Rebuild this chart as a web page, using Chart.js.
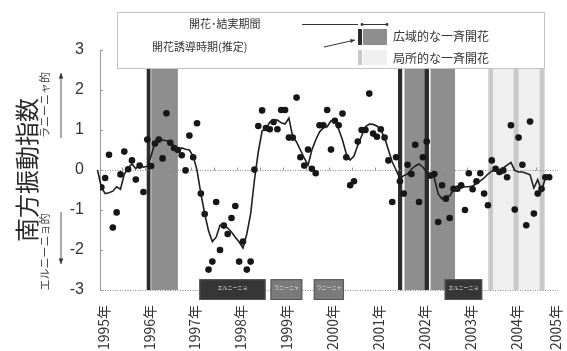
<!DOCTYPE html>
<html>
<head>
<meta charset="utf-8">
<script src="https://cdn.jsdelivr.net/npm/chart.js@4.4.1/dist/chart.umd.min.js"></script>
<style>
  html, body { margin: 0; padding: 0; background: #fff; }
</style>
</head>
<body>
<canvas id="soiChart" width="567" height="351"></canvas>
<script>
// month index: 0 = Jan 1995
const yearLabels = ['1995年', '1996年', '1997年', '1998年', '1999年', '2000年',
                    '2001年', '2002年', '2003年', '2004年', '2005年'];
const yTicks = [3, 2, 1, 0, -1, -2, -3];

// monthly SOI (dots), Jan 1995 - Oct 2004
const soiMonthly = [
  -0.43, -0.2, 0.38, -1.44, -1.06, -0.11, 0.46, 0.02, 0.24, -0.24, 0.11, -0.55,
  0.76, 0.1, 0.66, 0.76, 0.29, 1.42, 0.68, 0.55, 0.5, 0.37, -0.01, 0.86,
  0.32, 1.17, -0.59, -1.1, -2.49, -2.29, -0.8, -2.0, -1.39, -1.6, -1.2, -0.9,
  -2.29, -1.79, -2.49, -2.29, 0.01, 1.1, 1.49, 1.05, 1.02, 1.2, 1.02, 1.5,
  1.5, 0.81, 0.81, 1.81, 0.32, 0.11, 0.51, 0.03, -0.08, 1.12, 1.12, 1.5,
  0.51, 1.23, 1.12, 1.41, 0.32, -0.38, -0.28, 0.71, 1.0, 1.0, 1.91, 0.91,
  0.83, 1.02, 0.81, 0.24, -0.8, 0.32, -0.28, -0.59, 0.13, -0.1, 0.63, -0.8,
  0.32, 0.71, -0.14, -0.1, -1.3, -0.38, -0.72, -1.2, -0.47, -0.47, -0.38, -1.0,
  -0.08, -0.48, -0.28, -0.08, -0.59, -0.88, 0.24, 0.03, -0.05, -0.01, -0.18, 1.12,
  -0.99, 0.81, 0.13, -1.38, 1.21, -1.09, -0.59, -0.47, -0.18, -0.18
];

// running mean (line), starts Nov 1994
const smoothStart = -2;
const soiSmooth = [
  -1.05, null,
  -0.43, -0.59, -0.57, -0.53, -0.42, -0.48, -0.1, 0.05, 0.15, 0.03, 0.14, 0.07,
  0.09, 0.35, 0.69, 0.8, 0.75, 0.73, 0.73, 0.6, 0.48, 0.55, 0.52, 0.5,
  0.34, -0.01, -0.59, -1.09, -1.52, -1.79, -1.68, -1.38, -1.38, -1.45, -1.55, -1.68,
  -1.8, -1.95, -1.6, -1.1, -0.25, 0.45, 0.98, 1.02, 1.2, 1.25, 1.25, 1.18,
  1.15, 1.3, 0.83, 0.7, 0.5, 0.3, 0.12, 0.5, 0.75, 0.95, 1.06, 1.08,
  1.23, 1.2, 1.02, 0.75, 0.4, 0.25, 0.35, 0.62, 0.85, 1.08, 1.15, 1.14,
  1.1, 1.0, 0.81, 0.5, 0.2, 0.0, -0.22, -0.14, -0.1, 0.02, 0.1, 0.15,
  0.07, -0.05, -0.12, -0.2, -0.6, -0.72, -0.65, -0.65, -0.5, -0.47, -0.45, -0.42,
  -0.42, -0.4, -0.34, -0.27, -0.2, -0.1, -0.03, -0.01, 0.0, 0.05, 0.12, 0.19,
  -0.01, -0.05, -0.05, -0.08, -0.12, -0.45, -0.24, -0.52, -0.2
];

// flowering periods (month index ranges)
const wideInduction = [[11.85, 12.85], [77.5, 78.6], [84.4, 85.6]];
const wideFlowering = [[13.05, 20.0], [79.2, 84.4], [86.0, 92.4]];
const localInduction = [[101.1, 102.3], [107.7, 109.0], [114.5, 115.8]];
const localFlowering = [[102.3, 107.7], [109.0, 114.5]];

// ENSO event boxes under the plot
const ensoSpans = [[25.6, 42.9], [44.2, 52.5], [55.5, 63.4], [89.7, 99.5]];
const ensoNames = ['エルニーニョ', 'ラニーニャ', 'ラニーニャ', 'エルニーニョ'];

const FONT = "'Noto Sans CJK JP', 'Noto Sans', sans-serif";
const X_MIN = -0.35, X_MAX = 119.3;

function arrow(ctx, x0, y0, x1, y1, head) {
  ctx.beginPath();
  ctx.moveTo(x0, y0);
  ctx.lineTo(x1, y1);
  ctx.stroke();
  const a = Math.atan2(y1 - y0, x1 - x0);
  ctx.beginPath();
  ctx.moveTo(x1, y1);
  ctx.lineTo(x1 - head * Math.cos(a - 0.4), y1 - head * Math.sin(a - 0.4));
  ctx.lineTo(x1 - head * Math.cos(a + 0.4), y1 - head * Math.sin(a + 0.4));
  ctx.closePath();
  ctx.fill();
}

function vText(ctx, text, x, y, size) {
  ctx.save();
  ctx.translate(x, y);
  ctx.rotate(-Math.PI / 2);
  ctx.font = size + 'px ' + FONT;
  ctx.textAlign = 'center';
  ctx.textBaseline = 'middle';
  ctx.fillText(text, 0, 0);
  ctx.restore();
}

const decor = {
  id: 'decor',
  beforeDatasetsDraw(chart) {
    const {ctx, chartArea: a, scales: {x, y}} = chart;
    const band = (spans, color) => spans.forEach(([s, e]) => {
      const x0 = x.getPixelForValue(s), x1 = x.getPixelForValue(e);
      ctx.fillStyle = color;
      ctx.fillRect(x0, a.top, x1 - x0, a.bottom - a.top);
    });
    ctx.save();
    band(localFlowering, '#efefef');
    band(localInduction, '#c8c8c8');
    band(wideFlowering, '#8e8e8e');
    band(wideInduction, '#2c2c2c');

    // zero line with half-year ticks
    const y0 = Math.round(y.getPixelForValue(0)) + 0.5;
    ctx.strokeStyle = '#8a8a8a';
    ctx.lineWidth = 1;
    ctx.setLineDash([1, 1.5]);
    ctx.beginPath();
    ctx.moveTo(a.left, y0);
    ctx.lineTo(a.right, y0);
    ctx.stroke();
    // bottom axis line
    const yb = Math.round(a.bottom) + 0.5;
    ctx.beginPath();
    ctx.moveTo(a.left, yb);
    ctx.lineTo(a.right, yb);
    ctx.stroke();
    ctx.setLineDash([]);
    ctx.strokeStyle = '#999';
    for (let m = 5.5; m < X_MAX; m += 6) {
      const px = Math.round(x.getPixelForValue(m)) + 0.5;
      ctx.beginPath();
      ctx.moveTo(px, y0 - 3);
      ctx.lineTo(px, y0);
      ctx.stroke();
    }
    // y axis ticks, inside
    yTicks.forEach(v => {
      const py = Math.round(y.getPixelForValue(v)) + 0.5;
      ctx.beginPath();
      ctx.moveTo(a.left, py);
      ctx.lineTo(a.left + 3, py);
      ctx.stroke();
    });
    ctx.restore();
  },
  afterDraw(chart) {
    const {ctx, scales: {x, y}} = chart;
    ctx.save();

    // ENSO boxes
    const top = y.getPixelForValue(-2.73), bot = y.getPixelForValue(-3.25);
    ensoSpans.forEach(([s, e], i) => {
      const x0 = x.getPixelForValue(s), x1 = x.getPixelForValue(e);
      ctx.fillStyle = ensoNames[i] === 'ラニーニャ' ? '#7a7a7a' : '#363636';
      ctx.fillRect(x0, top, x1 - x0, bot - top);
      ctx.strokeStyle = '#555';
      ctx.strokeRect(x0 + 0.5, top + 0.5, x1 - x0 - 1, bot - top - 1);
      ctx.fillStyle = '#e8e8e8';
      ctx.font = '5px ' + FONT;
      ctx.textAlign = 'center';
      ctx.textBaseline = 'middle';
      ctx.fillText(ensoNames[i], (x0 + x1) / 2, top + 8);
    });

    // legend box
    ctx.fillStyle = '#fff';
    ctx.fillRect(117, 12, 428, 56);
    ctx.strokeStyle = '#c4c4c4';
    ctx.lineWidth = 1;
    ctx.strokeRect(117.5, 12.5, 427, 56);

    ctx.fillStyle = '#333';
    ctx.font = '11px ' + FONT;
    ctx.textBaseline = 'middle';
    ctx.textAlign = 'left';
    ctx.fillText('開花･結実期間', 189, 24);
    ctx.fillText('開花誘導時期(推定)', 152, 47);
    ctx.font = '12px ' + FONT;
    ctx.fillText('広域的な一斉開花', 393, 36);
    ctx.fillText('局所的な一斉開花', 393, 58);

    ctx.strokeStyle = '#333';
    ctx.beginPath();
    ctx.moveTo(302, 24.5);
    ctx.lineTo(358, 24.5);
    ctx.moveTo(362, 24.5);
    ctx.lineTo(387, 24.5);
    ctx.stroke();
    ctx.beginPath();
    ctx.arc(362, 24.5, 1.4, 0, Math.PI * 2);
    ctx.arc(387, 24.5, 1.4, 0, Math.PI * 2);
    ctx.fill();
    arrow(ctx, 324, 47, 355, 40, 5);

    ctx.fillStyle = '#2c2c2c';
    ctx.fillRect(358, 29, 4, 16);
    ctx.fillStyle = '#8e8e8e';
    ctx.fillRect(363, 29, 24, 16);
    ctx.fillStyle = '#c8c8c8';
    ctx.fillRect(358, 50, 4, 15);
    ctx.fillStyle = '#efefef';
    ctx.fillRect(363, 50, 24, 15);

    // La Nina / El Nino hints beside the axis
    ctx.fillStyle = '#444';
    vText(ctx, 'ラニーニャ的', 45, 105, 11);
    vText(ctx, 'エルニーニョ的', 45, 252, 11);
    ctx.strokeStyle = '#555';
    ctx.fillStyle = '#333';
    arrow(ctx, 61, 138, 61, 73, 6);
    arrow(ctx, 61, 212, 61, 264, 6);

    ctx.restore();
  }
};

new Chart(document.getElementById('soiChart'), {
  type: 'scatter',
  data: {
    datasets: [
      {
        data: soiSmooth.map((v, i) => ({x: smoothStart + i, y: v})),
        showLine: true,
        spanGaps: true,
        borderColor: '#1e1e1e',
        borderWidth: 1.6,
        pointRadius: 0,
        clip: false,
        order: 1
      },
      {
        data: soiMonthly.map((v, i) => ({x: i, y: v})),
        pointRadius: 3.3,
        pointBackgroundColor: '#161616',
        pointBorderWidth: 0,
        order: 2
      }
    ]
  },
  options: {
    responsive: false,
    animation: false,
    devicePixelRatio: 1,
    layout: { padding: { top: 50, right: 9, left: 0, bottom: 0 } },
    plugins: { legend: { display: false }, tooltip: { enabled: false } },
    scales: {
      x: {
        type: 'linear',
        min: X_MIN,
        max: X_MAX,
        grid: { display: false },
        border: { display: false },
        afterBuildTicks: s => {
          s.ticks = yearLabels.map((_, i) => ({ value: Math.min(i * 12 + 0.5, X_MAX - 0.7) }));
        },
        afterFit: s => {
          s.height = 61;
          s.paddingLeft = 0;
          s.paddingRight = 0;
        },
        ticks: {
          autoSkip: false,
          minRotation: 90,
          maxRotation: 90,
          padding: 7,
          color: '#333',
          font: { family: FONT, size: 14 },
          callback: (v, i) => yearLabels[i]
        }
      },
      y: {
        min: -3,
        max: 3,
        grid: { display: false },
        border: { display: true, color: '#999' },
        afterBuildTicks: s => { s.ticks = yTicks.map(v => ({ value: v })); },
        afterFit: s => { s.width = 100; },
        ticks: {
          padding: 8,
          color: '#333',
          font: { family: "'Liberation Sans', Arial, sans-serif", size: 16 },
          callback: v => String(v)
        },
        title: {
          display: true,
          text: '南方振動指数',
          color: '#2a2a2a',
          font: { family: FONT, size: 24 },
          padding: { top: 12, bottom: 0 }
        }
      }
    }
  },
  plugins: [decor]
});
</script>
</body>
</html>
